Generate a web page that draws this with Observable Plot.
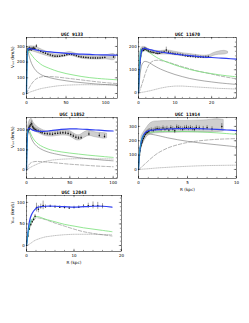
<!DOCTYPE html>
<html><head><meta charset="utf-8">
<script src="https://cdn.jsdelivr.net/npm/d3@7"></script>
<script src="https://cdn.jsdelivr.net/npm/@observablehq/plot@0.6"></script>
<style>
html,body{margin:0;padding:0;background:#fff;}
#page{position:relative;width:249px;height:323px;background:#fff;overflow:hidden;}
#page svg{position:absolute;overflow:visible;}
</style></head>
<body><div id="page"></div>
<script>
// ---------- UGC 9133 ----------
const g1_title = "UGC 9133";
const g1_obsR = [0.8,1.5,2.3,3,3.8,4.5,5.3,6,7,8,9,10.5,12.5,15,18,21,24,27,30,33,36,39,42,45,48,51,54,57,60,63,66,69,72,75,78,81,84,87,90,93,96,99,110];
const g1_obsV = [265,280,285,278,290,282,286,278,288,283,290,287,302,274,268,262,256,250,245,241,238,237,238,240,243,247,250,249,245,240,236,233,231,229,228,227,227,226,226,227,228,229,232];
const g1_obsE = [10,8,8,6,8,6,6,6,6,6,8,6,10,5,5,5,5,5,5,5,5,5,5,5,5,5,5,5,5,5,5,5,5,5,5,5,5,5,5,5,5,5,8];
const g1_bandR  = [1,4,8,12,16,20,25,30,35,40,45,50,55,60,65,70,75,80,85,90,95,100,105,110,113];
const g1_bandLo = [255,270,268,262,255,248,240,233,228,228,231,236,240,236,228,222,219,218,217,216,217,218,215,212,222];
const g1_bandHi = [295,300,300,298,288,278,268,258,250,248,252,260,264,258,250,243,240,239,238,238,240,242,248,252,242];
const g1_curveR = [0,1,2,3,5,8,12,16,20,30,40,50,60,70,80,90,100,115];
const g1_total  = [0,250,283,287,285,282,278,274,271,265,260,256,253,251,249,247,246,244];
const g1_stars  = [0,240,275,270,255,235,212,195,180,158,140,127,117,108,101,96,92,87];
const g1_disk   = [0,250,265,245,210,175,145,128,116,100,89,81,74,69,64,60,57,53];
const g1_halo   = [0,10,22,32,50,72,92,102,107,108,104,98,92,86,80,74,69,63];
const g1_gas    = [0,2,4,6,10,15,22,28,33,42,49,53,55,56,56,55,55,54];
const g1_bulgeR = [0,0.3,0.6,1,1.5,2];
const g1_bulge  = [0,120,200,250,275,285];
const g1_xticks = [0,50,100], g1_yticks = [0,100,200,300];

// ---------- UGC 11670 ----------
const g2_title = "UGC 11670";
const g2_obsR = [0.2,0.4,0.6,0.8,1.0,1.2,1.4,1.6,1.8,2.0,2.3,2.7,3.2,3.7,4.2,4.8,5.3,5.8,6.4,7.0,7.6,8.2,8.8,9.4,10,10.7,11.4,12.1,12.8,13.5,14.2,14.9,15.6,16.3,17,17.7,18.4,19.1];
const g2_obsV = [90,130,160,178,186,190,184,192,189,191,186,181,178,176,175,172,170,172,175,177,186,176,172,170,168,167,166,164,161,159,158,157,156,155,155,154,155,156];
const g2_obsE = [15,12,10,8,6,6,6,6,6,6,5,5,5,5,5,5,5,5,5,5,12,5,5,5,5,5,5,5,5,5,5,5,8,5,5,5,5,5];
const g2_bandR  = [0.5,1,2,3,4,6,8,10,12,14,16,18,19.5,20.5,22,23.5,24.5];
const g2_bandLo = [140,175,180,172,168,166,166,163,159,155,152,150,151,160,165,166,170];
const g2_bandHi = [175,198,197,187,183,181,184,178,172,168,164,161,164,172,179,182,178];
const g2_curveR = [0,0.3,0.6,1,1.5,2,3,4,5,6,8,10,12,14,16,18,20,22,24,26.8];
const g2_total  = [0,100,160,185,193,192,188,184,180,177,172,168,164,161,158,155,153,151,149,146];
const g2_stars  = [0,90,150,178,188,186,175,163,153,145,132,120,110,101,94,88,83,78,74,69];
const g2_disk   = [0,60,100,125,135,136,130,120,111,103,90,79,70,62,56,51,47,43,40,36];
const g2_halo   = [0,8,20,40,65,90,125,138,141,140,133,123,113,104,95,88,81,74,68,60];
const g2_gas    = [0,0,1,2,3,5,8,12,16,20,26,29,29,27,25,23,21,19,18,16];
const g2_bulgeR = [0,0.1,0.2,0.3,0.45,0.6];
const g2_bulge  = [0,60,110,145,175,190];
const g2_xticks = [0,10,20], g2_yticks = [0,100,200];

// ---------- UGC 11852 ----------
const g3_title = "UGC 11852";
const g3_obsR = [0.5,1,1.5,2,2.5,3,3.5,4,5,6,7,8,9,10.5,12,14,16,18,21,24,27,30,33,36,39,42,45,48,51,54,57,60,63,72,84,90];
const g3_obsV = [150,172,192,200,204,214,206,220,226,232,216,210,205,201,198,194,190,186,183,181,180,179,182,184,185,186,185,183,177,170,163,160,161,180,173,168];
const g3_obsE = [12,10,10,10,10,10,10,10,12,14,10,10,8,8,8,8,8,8,8,8,8,8,8,8,8,8,8,8,8,8,8,8,8,10,10,10];
const g3_bandR  = [2,4,6,8,12,16,20,25,30,35,40,45,50,55,58,62,66,70,74,78,84,90,93];
const g3_bandLo = [175,200,208,198,188,180,172,168,167,170,172,172,168,155,148,148,158,168,170,165,160,156,158];
const g3_bandHi = [222,250,256,238,218,206,198,193,192,196,199,199,195,182,175,175,186,195,196,190,186,184,182];
const g3_curveR = [0,1,2,3,5,8,12,16,20,25,30,40,50,60,70,80,90,100];
const g3_total  = [0,170,205,210,205,198,194,193,193,195,198,203,206,205,203,200,197,195];
const g3_stars  = [0,165,200,200,180,155,135,122,113,104,98,90,84,79,74,70,66,62];
const g3_disk   = [0,160,190,190,165,138,118,106,97,89,83,74,67,61,56,52,48,45];
const g3_halo   = [0,8,18,26,35,40,42,41,40,38,36,32,28,25,22,19,17,15];
const g3_gas    = [0,2,5,8,13,20,28,35,40,45,49,53,55,56,56,55,55,54];
const g3_bulgeR = [0,0.3,0.6,1,1.5];
const g3_bulge  = [0,80,140,180,200];
const g3_xticks = [0,50,100], g3_yticks = [0,100,200];

// ---------- UGC 11914 ----------
const g4_title = "UGC 11914";
const g4_obsR = [0.1,0.15,0.2,0.25,0.3,0.35,0.4,0.5,0.6,0.7,0.8,0.9,1.0,1.1,1.3,1.5,1.7,1.9,2.1,2.3,2.5,2.7,2.9,3.1,3.3,3.5,3.7,3.9,4.1,4.3,4.5,4.7,4.9,5.1,5.3,5.5,5.7,5.9,6.2,6.6,7.0,7.5,8.5];
const g4_obsV = [100,130,150,165,180,190,200,215,230,245,255,260,265,270,275,272,280,285,282,278,288,280,286,275,290,282,270,295,290,285,280,288,292,285,290,283,278,292,288,285,290,282,300];
const g4_obsE = [15,15,15,15,15,15,15,15,15,15,15,15,15,15,15,15,15,15,15,15,15,15,15,15,15,15,20,15,15,15,15,15,15,15,15,15,15,15,15,15,15,15,20];
const g4_bandR  = [0.3,0.5,0.8,1.0,1.3,1.6,2,3,4,5,6,7,8,8.7];
const g4_bandLo = [150,185,220,235,245,250,252,255,256,257,258,258,260,265];
const g4_bandHi = [230,255,285,305,325,333,335,337,338,338,340,343,350,345];
const g4_curveR = [0,0.1,0.2,0.3,0.4,0.6,0.8,1,1.5,2,3,4,5,6,7,8,9,10];
const g4_total  = [0,110,165,200,222,250,263,270,275,278,282,284,285,284,282,279,275,271];
const g4_stars  = [0,100,155,190,212,238,250,256,260,263,265,265,264,262,259,255,250,245];
const g4_disk   = [0,90,150,185,210,237,247,248,243,236,220,207,196,187,179,172,165,158];
const g4_halo   = [0,5,10,16,22,35,47,60,90,115,150,172,188,198,205,210,213,215];
const g4_gas    = [0,0,1,1,2,3,4,5,8,11,15,19,22,25,27,28,29,30];
const g4_bulgeR = [0,0.05,0.1,0.2,0.3,0.4,0.5];
const g4_bulge  = [0,70,115,170,205,225,240];
const g4_xticks = [0,5,10], g4_yticks = [0,100,200,300];

// ---------- UGC 12043 ----------
const g5_title = "UGC 12043";
const g5_obsR = [0.3,0.6,0.9,1.2,1.5,1.8,2.1,2.5,3.0,3.5,4.0,5,6,7,8,9,10,11,12,13,14,15,16];
const g5_obsV = [22,38,48,55,60,68,88,84,90,93,90,91,90,89,88,87,88,89,91,92,93,92,91];
const g5_obsE = [3,3,3,3,4,4,10,8,6,10,4,3,3,3,3,3,3,3,4,6,8,8,6];
const g5_curveR = [0,0.3,0.6,1,1.5,2,2.5,3,4,6,8,10,12,14,16,18];
const g5_total  = [0,30,55,70,80,86,89,90,91,91,90,89,90,91,91,89];
const g5_stars  = [0,25,42,55,64,67,67,65,61,55,49,45,41,38,35,32];
const g5_halo   = [0,22,38,50,60,64,64,63,60,52,45,38,32,28,25,22];
const g5_gas    = [0,1,3,6,10,13,15,17,20,23,25,26,26,26,25,25];
const g5_bulgeR = [0,0.2,0.4,0.7,1];
const g5_bulge  = [0,18,35,50,60];
const g5_xticks = [0,10,20], g5_yticks = [0,50,100];

const yLabel = "Vᵣₒₜ (km/s)";
const xLabel = "R (kpc)";

const FONT = "'DejaVu Sans', sans-serif";
const page = document.getElementById("page");

function seriesLine(R, V, opts) {
  return Plot.line(R.map((r, i) => [r, V[i]]), {x: d => d[0], y: d => d[1], ...opts});
}

function panel(o) {
  const ml = 22, mr = 6, mt = 10, mb = 16;
  const W = o.R - o.L, H = o.B - o.T;
  const len = 2.2, mlen = 1.1;
  const marks = [];
  if (o.band) {
    const b = o.band;
    marks.push(Plot.areaY(b.R.map((r, i) => [r, b.lo[i], b.hi[i]]),
      {x: d => d[0], y1: d => d[1], y2: d => d[2], fill: "#cfcfcf", stroke: "#8a8a8a", strokeWidth: 0.35, curve: "catmull-rom"}));
  }
  const C = o.curves;
  marks.push(seriesLine(C.R, C.gas, {stroke: "#9a9a9a", strokeWidth: 0.6, strokeDasharray: "0.7,1.1"}));
  marks.push(seriesLine(C.R, C.halo, {stroke: "#666", strokeWidth: 0.5, strokeDasharray: "3.5,1.8", curve: "catmull-rom"}));
  if (C.disk) marks.push(seriesLine(C.R, C.disk, {stroke: "#555", strokeWidth: 0.5, curve: "catmull-rom"}));
  marks.push(seriesLine(C.R, C.stars, {stroke: "#77e077", strokeWidth: 0.8, curve: "catmull-rom"}));
  const ob = o.obs;
  const idx = ob.R.map((_, i) => i);
  marks.push(Plot.ruleX(idx, {x: i => ob.R[i], y1: i => ob.V[i] - ob.E[i], y2: i => ob.V[i] + ob.E[i], stroke: "#111", strokeWidth: 0.4}));
  marks.push(Plot.dot(idx, {x: i => ob.R[i], y: i => ob.V[i], r: 0.75, fill: "#111", stroke: "none"}));
  marks.push(seriesLine(C.R, C.total, {stroke: "#2f3ff0", strokeWidth: 1.2, curve: "catmull-rom"}));
  marks.push(seriesLine(C.bulgeR, C.bulge, {stroke: "#22b0b8", strokeWidth: 0.8, curve: "catmull-rom"}));
  // frame and inward ticks
  marks.push(Plot.frame({stroke: "#000", strokeWidth: 0.5}));
  const xs = o.xticks, ys = o.yticks;
  const xm = d3.range(o.xdom[0], o.xdom[1] + 1e-9, o.xminor);
  const ym = d3.range(Math.ceil(o.ydom[0] / o.yminor) * o.yminor, o.ydom[1] + 1e-9, o.yminor);
  for (const [vals, L] of [[xs, len], [xm, mlen]]) {
    marks.push(Plot.tickX(vals, {x: d => d, insetTop: H - L, strokeWidth: 0.4}));
    marks.push(Plot.tickX(vals, {x: d => d, insetBottom: H - L, strokeWidth: 0.4}));
  }
  for (const [vals, L] of [[ys, len], [ym, mlen]]) {
    marks.push(Plot.tickY(vals, {y: d => d, insetRight: W - L, strokeWidth: 0.4}));
    marks.push(Plot.tickY(vals, {y: d => d, insetLeft: W - L, strokeWidth: 0.4}));
  }
  marks.push(Plot.text([o.title], {frameAnchor: "top", dy: -4.5, fontSize: 4.6, fontWeight: "bold", fontFamily: "'DejaVu Sans Mono', monospace", fill: "#000"}));
  if (o.ylabel) marks.push(Plot.text([o.ylabel], {frameAnchor: "left", dx: -13.5, rotate: -90, fontSize: 4.2, fill: "#000"}));
  if (o.xlabel) marks.push(Plot.text([o.xlabel], {frameAnchor: "bottom", dy: 12.5, fontSize: 4.2, fill: "#000"}));
  const svg = Plot.plot({
    width: W + ml + mr, height: H + mt + mb,
    marginLeft: ml, marginRight: mr, marginTop: mt, marginBottom: mb,
    style: {fontSize: "4px", fontFamily: FONT, background: "transparent", color: "#000", overflow: "visible"},
    x: {domain: o.xdom, ticks: xs, tickSize: 0, tickPadding: 2.2, label: null, tickFormat: d => String(d)},
    y: {domain: o.ydom, ticks: ys, tickSize: 0, tickPadding: 1.8, label: null, tickFormat: d => String(d)},
    marks
  });
  svg.style.left = (o.L - ml) + "px";
  svg.style.top = (o.T - mt) + "px";
  page.appendChild(svg);
}

panel({L: 26, R: 117, T: 37, B: 98, xdom: [0, 115], ydom: [-32, 357], xticks: g1_xticks, yticks: g1_yticks, xminor: 10, yminor: 50,
  title: g1_title, ylabel: yLabel,
  obs: {R: g1_obsR, V: g1_obsV, E: g1_obsE}, band: {R: g1_bandR, lo: g1_bandLo, hi: g1_bandHi},
  curves: {R: g1_curveR, total: g1_total, stars: g1_stars, disk: g1_disk, halo: g1_halo, gas: g1_gas, bulgeR: g1_bulgeR, bulge: g1_bulge}});

panel({L: 138, R: 236, T: 37, B: 98, xdom: [0, 26.8], ydom: [-25, 240], xticks: g2_xticks, yticks: g2_yticks, xminor: 2, yminor: 20,
  title: g2_title,
  obs: {R: g2_obsR, V: g2_obsV, E: g2_obsE}, band: {R: g2_bandR, lo: g2_bandLo, hi: g2_bandHi},
  curves: {R: g2_curveR, total: g2_total, stars: g2_stars, disk: g2_disk, halo: g2_halo, gas: g2_gas, bulgeR: g2_bulgeR, bulge: g2_bulge}});

panel({L: 26, R: 117, T: 117, B: 178, xdom: [0, 105], ydom: [-44, 263], xticks: g3_xticks, yticks: g3_yticks, xminor: 10, yminor: 20,
  title: g3_title, ylabel: yLabel,
  obs: {R: g3_obsR, V: g3_obsV, E: g3_obsE}, band: {R: g3_bandR, lo: g3_bandLo, hi: g3_bandHi},
  curves: {R: g3_curveR, total: g3_total, stars: g3_stars, disk: g3_disk, halo: g3_halo, gas: g3_gas, bulgeR: g3_bulgeR, bulge: g3_bulge}});

panel({L: 138, R: 236, T: 117, B: 178, xdom: [0, 10], ydom: [-63, 362], xticks: g4_xticks, yticks: g4_yticks, xminor: 1, yminor: 50,
  title: g4_title, xlabel: xLabel,
  obs: {R: g4_obsR, V: g4_obsV, E: g4_obsE}, band: {R: g4_bandR, lo: g4_bandLo, hi: g4_bandHi},
  curves: {R: g4_curveR, total: g4_total, stars: g4_stars, disk: g4_disk, halo: g4_halo, gas: g4_gas, bulgeR: g4_bulgeR, bulge: g4_bulge}});

panel({L: 26, R: 121, T: 195, B: 251, xdom: [0, 20], ydom: [-14, 116], xticks: g5_xticks, yticks: g5_yticks, xminor: 2, yminor: 10,
  title: g5_title, ylabel: yLabel, xlabel: xLabel,
  obs: {R: g5_obsR, V: g5_obsV, E: g5_obsE},
  curves: {R: g5_curveR, total: g5_total, stars: g5_stars, halo: g5_halo, gas: g5_gas, bulgeR: g5_bulgeR, bulge: g5_bulge}});
</script>
</body></html>
